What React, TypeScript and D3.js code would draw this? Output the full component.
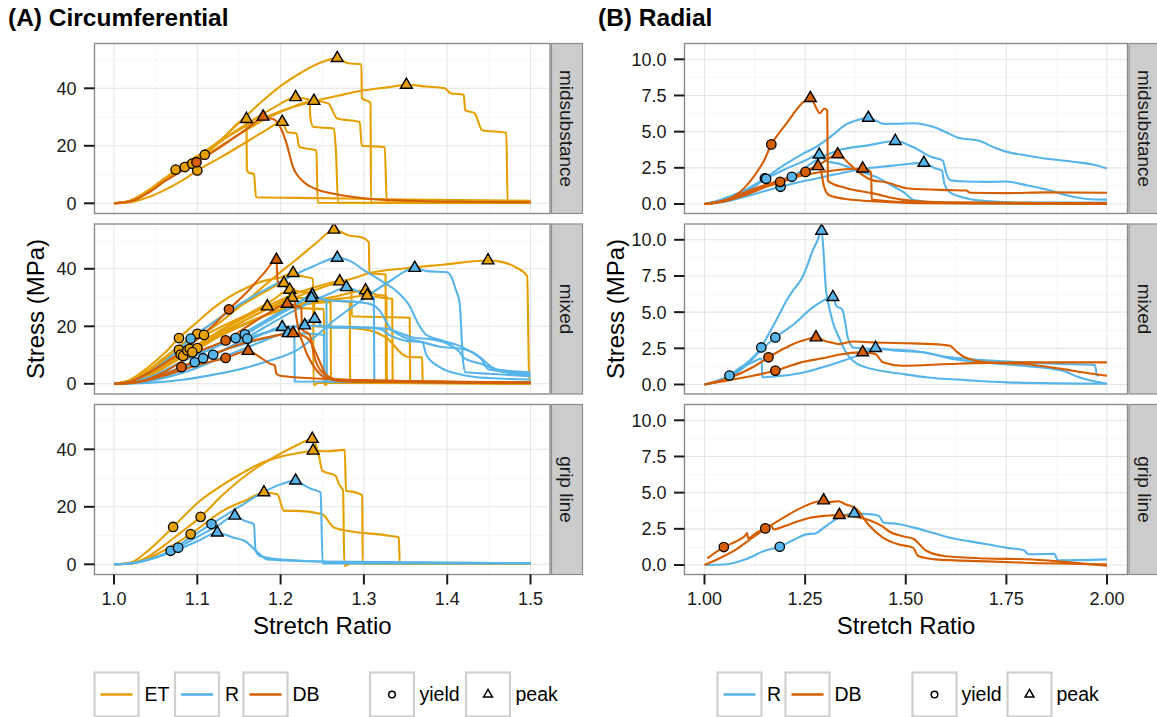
import React from 'react';
import * as d3 from 'd3';

type G = 'ET' | 'R' | 'DB';
type P = [number, number];
type Curve = { g: G; pts: P[] };
type Mk = [number, number, G];

// ---------- tick labels / categories ----------
const facetLabels = ['midsubstance', 'mixed', 'grip line'];
const xTicksA = [1.0, 1.1, 1.2, 1.3, 1.4, 1.5];
const xTickLabelsA = ['1.0', '1.1', '1.2', '1.3', '1.4', '1.5'];
const yTicksA = [0, 20, 40];
const yTickLabelsA = ['0', '20', '40'];
const xTicksB = [1.0, 1.25, 1.5, 1.75, 2.0];
const xTickLabelsB = ['1.00', '1.25', '1.50', '1.75', '2.00'];
const yTicksB = [0, 2.5, 5, 7.5, 10];
const yTickLabelsB = ['0.0', '2.5', '5.0', '7.5', '10.0'];
const legendGroupsA: G[] = ['ET', 'R', 'DB'];
const legendGroupsB: G[] = ['R', 'DB'];

// ---------- (A) Circumferential : midsubstance ----------
const aMidCurves: Curve[] = [
  { g: 'ET', pts: [[1, 0], [1.02, 0.8], [1.04, 3.5], [1.06, 7.5], [1.08, 11.8], [1.109, 16.9], [1.13, 22.5], [1.159, 30.5], [1.18, 36], [1.201, 41], [1.225, 45.5], [1.246, 48.7], [1.268, 50.5], [1.28, 48.8], [1.297, 48.3], [1.2975, 36.5], [1.308, 35], [1.3085, 0.2], [1.5, 0.2]] },
  { g: 'ET', pts: [[1, 0], [1.02, 0.9], [1.04, 4], [1.06, 8.3], [1.074, 11.7], [1.1, 16.5], [1.13, 22], [1.16, 27], [1.2, 32], [1.24, 35.5], [1.27, 37.5], [1.3, 39.3], [1.33, 40.4], [1.351, 41.2], [1.375, 40.6], [1.397, 40], [1.404, 38.3], [1.42, 37.7], [1.4215, 32.4], [1.433, 31.3], [1.442, 25.4], [1.471, 24.5], [1.4725, 0.6], [1.5, 0.5]] },
  { g: 'ET', pts: [[1, 0], [1.02, 1], [1.04, 4.3], [1.06, 8.5], [1.085, 12.6], [1.11, 17.5], [1.14, 24], [1.17, 29.5], [1.195, 33.8], [1.218, 36.9], [1.235, 35.9], [1.2355, 30.3], [1.239, 26.6], [1.264, 26], [1.2665, 17.8], [1.269, 0.3], [1.5, 0.2]] },
  { g: 'ET', pts: [[1, 0], [1.02, 0.8], [1.04, 3.8], [1.06, 8], [1.094, 13.8], [1.12, 18.5], [1.15, 24], [1.18, 29], [1.21, 33], [1.24, 35.6], [1.257, 34.8], [1.268, 29.5], [1.295, 28.3], [1.2975, 20], [1.325, 19.6], [1.3275, 0.3], [1.5, 0.2]] },
  { g: 'ET', pts: [[1, 0], [1.02, 1], [1.04, 4.2], [1.06, 8.2], [1.08, 12], [1.1, 16], [1.13, 22.5], [1.159, 29.3], [1.1595, 11.5], [1.162, 10.6], [1.168, 10.2], [1.1705, 2.1], [1.25, 1.8], [1.35, 1.3], [1.5, 0.9]] },
  { g: 'ET', pts: [[1, 0], [1.02, 0.4], [1.04, 2], [1.06, 4.5], [1.08, 7.6], [1.1, 11.4], [1.13, 16.3], [1.16, 21.5], [1.18, 25], [1.202, 28.3], [1.208, 24.8], [1.219, 24.3], [1.2225, 19.6], [1.243, 18.4], [1.2445, 0.2], [1.5, 0.1]] },
  { g: 'DB', pts: [[1, 0], [1.02, 0.7], [1.04, 3.5], [1.06, 7.5], [1.08, 11], [1.099, 14.3], [1.13, 20], [1.16, 26], [1.179, 29.6], [1.19, 29.4], [1.197, 27.8], [1.206, 21.9], [1.215, 12.6], [1.228, 7.3], [1.242, 5], [1.264, 3.3], [1.308, 1.5], [1.353, 0.9], [1.5, 0.35]] },
];
const aMidYield: Mk[] = [[1.074, 11.7, 'ET'], [1.085, 12.6, 'ET'], [1.094, 13.8, 'ET'], [1.1, 11.4, 'ET'], [1.109, 16.9, 'ET'], [1.099, 14.3, 'DB']];
const aMidPeak: Mk[] = [[1.268, 50.5, 'ET'], [1.351, 41.2, 'ET'], [1.218, 36.9, 'ET'], [1.24, 35.6, 'ET'], [1.159, 29.3, 'ET'], [1.202, 28.3, 'ET'], [1.179, 30.1, 'DB']];

// ---------- (A) Circumferential : mixed ----------
const aMixCurves: Curve[] = [
  { g: 'ET', pts: [[1, 0], [1.02, 1], [1.04, 4], [1.06, 8], [1.08, 12.2], [1.108, 17.6], [1.13, 22], [1.16, 29], [1.19, 36.5], [1.22, 43.5], [1.245, 49.5], [1.264, 53.6], [1.282, 51.6], [1.297, 51], [1.306, 49.3], [1.3065, 38.5], [1.326, 38], [1.3265, 0.4], [1.5, 0.3]] },
  { g: 'ET', pts: [[1, 0], [1.02, 0.5], [1.04, 2.5], [1.06, 5.5], [1.08, 9], [1.1, 12.4], [1.13, 17.5], [1.16, 22.5], [1.2, 28], [1.25, 33.5], [1.291, 37.1], [1.308, 38.6], [1.35, 40.2], [1.397, 41.5], [1.449, 42.9], [1.465, 42.4], [1.482, 40.6], [1.496, 37.5], [1.4985, 1.5], [1.5, 1.2]] },
  { g: 'ET', pts: [[1, 0], [1.02, 1.5], [1.04, 5.5], [1.06, 10.5], [1.078, 15.9], [1.1, 21.5], [1.12, 26.5], [1.14, 30.5], [1.16, 33.5], [1.18, 35.8], [1.2, 37], [1.215, 38.5], [1.225, 37.5], [1.239, 36.5], [1.2395, -0.5], [1.245, 0.3], [1.5, 0.2]] },
  { g: 'ET', pts: [[1, 0], [1.02, 1], [1.04, 4.5], [1.06, 9], [1.08, 13.5], [1.1, 17.4], [1.13, 23.5], [1.16, 28.5], [1.18, 31.8], [1.204, 35], [1.21, 33.5], [1.2105, 26.5], [1.252, 26], [1.2525, -0.5], [1.258, 0.3], [1.5, 0.2]] },
  { g: 'ET', pts: [[1, 0], [1.02, 1], [1.04, 4], [1.06, 7.5], [1.08, 10.2], [1.1, 13.5], [1.13, 19], [1.16, 24], [1.19, 29], [1.211, 32.7], [1.225, 32], [1.24, 31.5], [1.2405, 20], [1.28, 19.5], [1.308, 18.5], [1.326, 16.2], [1.353, 9.3], [1.37, 9.2], [1.3705, 0.3], [1.5, 0.2]] },
  { g: 'ET', pts: [[1, 0], [1.02, 0.9], [1.04, 3.5], [1.06, 7], [1.083, 9.7], [1.11, 14.5], [1.14, 19.5], [1.17, 24], [1.19, 27], [1.214, 29.9], [1.23, 29.8], [1.26, 29], [1.283, 28.5], [1.2835, 0.5], [1.5, 0.3]] },
  { g: 'ET', pts: [[1, 0], [1.02, 1.2], [1.04, 4.5], [1.06, 8.5], [1.078, 11.8], [1.1, 15.5], [1.13, 20], [1.16, 24], [1.184, 26.9], [1.2, 26.8], [1.22, 27.5], [1.24, 28], [1.26, 28.5], [1.2605, 0.5], [1.5, 0.3]] },
  { g: 'ET', pts: [[1, 0], [1.02, 0.9], [1.04, 3.8], [1.06, 7.5], [1.088, 11.6], [1.12, 17], [1.15, 22], [1.18, 26.5], [1.21, 30.5], [1.24, 33.5], [1.271, 35.6], [1.279, 34.5], [1.285, 33], [1.2855, 23.5], [1.355, 23], [1.3555, 0.3], [1.5, 0.2]] },
  { g: 'ET', pts: [[1, 0], [1.02, 0.7], [1.04, 3], [1.06, 6.5], [1.091, 12.2], [1.12, 16], [1.15, 20], [1.18, 23.8], [1.21, 26.8], [1.24, 28.8], [1.27, 30.6], [1.302, 32.5], [1.315, 31], [1.327, 30.5], [1.3275, 0.3], [1.5, 0.2]] },
  { g: 'ET', pts: [[1, 0], [1.02, 0.6], [1.04, 2.8], [1.06, 6], [1.094, 11], [1.13, 17], [1.16, 21], [1.19, 24.5], [1.22, 27], [1.25, 28.8], [1.28, 29.9], [1.304, 30.7], [1.32, 30], [1.334, 29.5], [1.3345, 0.3], [1.5, 0.2]] },
  { g: 'R', pts: [[1, 0], [1.02, 0.8], [1.04, 3.5], [1.06, 7.5], [1.08, 12.5], [1.092, 15.7], [1.12, 21.5], [1.15, 27.5], [1.18, 32.5], [1.21, 37], [1.24, 41], [1.268, 43.8], [1.285, 42.5], [1.3, 39.5], [1.32, 36], [1.34, 32], [1.355, 27], [1.365, 21], [1.375, 17], [1.395, 15], [1.42, 12.5], [1.44, 9], [1.455, 5.5], [1.47, 4], [1.5, 3]] },
  { g: 'R', pts: [[1, 0], [1.04, 0.3], [1.08, 1.3], [1.12, 3.2], [1.15, 5], [1.175, 7], [1.2, 9.3], [1.219, 11.6], [1.24, 16], [1.264, 22], [1.285, 26.5], [1.308, 31.3], [1.33, 35.5], [1.361, 40.3], [1.375, 39.2], [1.4, 38.8], [1.406, 36.5], [1.41, 33], [1.415, 28], [1.419, 8], [1.422, 4], [1.45, 3.5], [1.5, 2.6]] },
  { g: 'R', pts: [[1, 0], [1.02, 0.4], [1.04, 1.6], [1.06, 3.5], [1.08, 5.8], [1.1, 8.2], [1.119, 10.1], [1.15, 14.5], [1.18, 19.5], [1.21, 24.5], [1.24, 29], [1.26, 31.5], [1.279, 33.6], [1.29, 32.5], [1.3, 31], [1.312, 30], [1.3125, 0.8], [1.5, 0.5]] },
  { g: 'R', pts: [[1, 0], [1.02, 0.5], [1.04, 2], [1.06, 4.5], [1.08, 7.5], [1.1, 10], [1.12, 12.5], [1.146, 15.9], [1.17, 20], [1.2, 25], [1.22, 28], [1.238, 31], [1.245, 30], [1.255, 29], [1.2555, 0.8], [1.5, 0.4]] },
  { g: 'R', pts: [[1, 0], [1.02, 0.5], [1.04, 2], [1.06, 4.5], [1.08, 7.5], [1.1, 10.5], [1.13, 14.5], [1.157, 17.2], [1.18, 21], [1.21, 26], [1.237, 29.9], [1.26, 29], [1.29, 28.5], [1.31, 27.5], [1.32, 25], [1.33, 20], [1.35, 16], [1.37, 14.5], [1.39, 13], [1.42, 12], [1.44, 9], [1.45, 5], [1.5, 3.5]] },
  { g: 'R', pts: [[1, 0], [1.02, 0.4], [1.04, 1.5], [1.06, 3.3], [1.08, 5.5], [1.097, 7.5], [1.13, 11.5], [1.16, 15], [1.18, 17.5], [1.202, 19.7], [1.21, 19], [1.2165, 18], [1.217, 0.8], [1.5, 0.5]] },
  { g: 'R', pts: [[1, 0], [1.02, 0.3], [1.04, 1.4], [1.06, 3.2], [1.08, 5.5], [1.107, 8.9], [1.14, 12.5], [1.17, 15], [1.19, 16.5], [1.209, 17.6], [1.23, 17.5], [1.252, 17], [1.2525, 0.8], [1.5, 0.3]] },
  { g: 'R', pts: [[1, 0], [1.03, 0.5], [1.06, 2.5], [1.09, 6], [1.12, 10], [1.14, 13], [1.16, 15.7], [1.19, 18.5], [1.21, 19.8], [1.229, 20.3], [1.25, 20], [1.28, 19.8], [1.31, 19.5], [1.33, 19], [1.345, 17.5], [1.36, 16], [1.38, 15.5], [1.4, 14], [1.415, 11], [1.42, 9], [1.44, 7], [1.46, 5], [1.5, 4]] },
  { g: 'R', pts: [[1, 0], [1.03, 0.4], [1.06, 2], [1.09, 4.5], [1.12, 8], [1.15, 11.5], [1.18, 15], [1.21, 18.5], [1.241, 22.6], [1.25, 20], [1.26, 19.5], [1.3, 19.5], [1.32, 19], [1.33, 17], [1.35, 15], [1.37, 14.5], [1.375, 10], [1.39, 6], [1.42, 3], [1.45, 2], [1.5, 1.5]] },
  { g: 'DB', pts: [[1, 0], [1.02, 0.8], [1.04, 3.5], [1.06, 7], [1.08, 11], [1.1, 15.5], [1.12, 20.5], [1.138, 25.9], [1.16, 32], [1.18, 38.5], [1.195, 43.1], [1.1965, 35.5], [1.205, 34], [1.216, 33], [1.218, 25], [1.228, 13], [1.24, 6], [1.255, 2], [1.28, 0.8], [1.5, 0.2]] },
  { g: 'DB', pts: [[1, 0], [1.02, 0.3], [1.04, 1.5], [1.06, 4], [1.08, 7.5], [1.1, 11], [1.134, 15.1], [1.16, 20], [1.185, 24.5], [1.208, 27.8], [1.22, 27], [1.225, 26.5], [1.2255, 19], [1.235, 17], [1.24, 10], [1.25, 4], [1.27, 1.5], [1.5, 0.4]] },
  { g: 'DB', pts: [[1, 0], [1.02, 0.3], [1.04, 1.3], [1.06, 3.2], [1.081, 5.8], [1.1, 8.2], [1.13, 11.5], [1.16, 14.5], [1.19, 16.5], [1.215, 17.6], [1.225, 17], [1.235, 15], [1.245, 9], [1.255, 3], [1.27, 1], [1.5, 0.3]] },
  { g: 'DB', pts: [[1, 0], [1.02, 0.3], [1.04, 1.2], [1.06, 2.8], [1.08, 4.5], [1.1, 6.5], [1.134, 9], [1.161, 11.4], [1.175, 9.3], [1.188, 6.9], [1.193, 6.4], [1.195, 3.5], [1.201, 2.7], [1.3, 1.2], [1.5, 0.5]] },
];
const aMixYield: Mk[] = [
  [1.078, 15.9, 'ET'], [1.078, 11.8, 'ET'], [1.08, 10.2, 'ET'], [1.083, 9.7, 'ET'], [1.088, 11.6, 'ET'], [1.091, 12.2, 'ET'], [1.1, 17.4, 'ET'], [1.108, 17.0, 'ET'], [1.1, 12.4, 'ET'], [1.094, 11.0, 'ET'],
  [1.092, 15.7, 'R'], [1.097, 7.5, 'R'], [1.107, 8.9, 'R'], [1.119, 10.1, 'R'], [1.146, 15.9, 'R'], [1.157, 17.2, 'R'], [1.16, 15.7, 'R'],
  [1.081, 5.8, 'DB'], [1.138, 25.9, 'DB'], [1.134, 15.1, 'DB'], [1.134, 9.0, 'DB'],
];
const aMixPeak: Mk[] = [
  [1.264, 53.6, 'ET'], [1.449, 42.9, 'ET'], [1.215, 38.5, 'ET'], [1.204, 35.0, 'ET'], [1.211, 32.7, 'ET'], [1.214, 29.9, 'ET'], [1.184, 26.9, 'ET'], [1.271, 35.6, 'ET'], [1.302, 32.5, 'ET'], [1.304, 30.7, 'ET'],
  [1.268, 43.8, 'R'], [1.361, 40.3, 'R'], [1.279, 33.6, 'R'], [1.238, 31.0, 'R'], [1.237, 29.9, 'R'], [1.202, 19.7, 'R'], [1.209, 17.6, 'R'], [1.229, 20.3, 'R'], [1.241, 22.6, 'R'],
  [1.195, 43.1, 'DB'], [1.208, 27.8, 'DB'], [1.215, 17.6, 'DB'], [1.161, 11.4, 'DB'],
];

// ---------- (A) Circumferential : grip line ----------
const aGripCurves: Curve[] = [
  { g: 'ET', pts: [[1, 0], [1.02, 0.6], [1.04, 4.5], [1.071, 13], [1.103, 22], [1.13, 27.5], [1.152, 31.4], [1.175, 35], [1.201, 37.5], [1.22, 38.6], [1.239, 39.5], [1.255, 39.3], [1.277, 39.8], [1.2785, 25.6], [1.29, 25], [1.298, 24], [1.2985, 0.2], [1.5, 0.2]] },
  { g: 'ET', pts: [[1, 0], [1.02, 0.3], [1.04, 2.5], [1.06, 6.5], [1.08, 11], [1.104, 16.5], [1.13, 24], [1.152, 29.5], [1.175, 34.3], [1.2, 38.5], [1.22, 41.5], [1.238, 43.6], [1.246, 37.8], [1.25, 32.6], [1.266, 30.8], [1.27, 27.9], [1.275, 25.6], [1.2765, -0.5], [1.285, 0.3], [1.5, 0.2]] },
  { g: 'ET', pts: [[1, 0], [1.02, 0.3], [1.04, 2], [1.06, 4.8], [1.092, 10.5], [1.13, 18.5], [1.16, 22.5], [1.18, 25], [1.196, 24.4], [1.204, 18.6], [1.219, 18.6], [1.25, 17.4], [1.264, 12.8], [1.282, 11.6], [1.331, 9.9], [1.342, 9.3], [1.343, 0.2], [1.5, 0.2]] },
  { g: 'R', pts: [[1, 0], [1.02, 0.3], [1.04, 1.5], [1.068, 4.7], [1.09, 9], [1.117, 14], [1.152, 20.3], [1.175, 24.4], [1.2, 27.8], [1.218, 29.1], [1.225, 28], [1.237, 26.2], [1.248, 25], [1.2505, 0.3], [1.5, 0.3]] },
  { g: 'R', pts: [[1, 0], [1.02, 0.3], [1.04, 1.5], [1.06, 3.5], [1.077, 5.8], [1.1, 9.5], [1.125, 13.5], [1.145, 16.9], [1.157, 15.1], [1.168, 14], [1.17, 4.7], [1.175, 2.9], [1.184, 2.3], [1.22, 1.3], [1.3, 0.6], [1.5, 0.4]] },
  { g: 'R', pts: [[1, 0], [1.02, 0.3], [1.04, 1.5], [1.06, 3.2], [1.08, 5.5], [1.1, 8], [1.124, 11], [1.143, 9.3], [1.157, 8.1], [1.175, 3.5], [1.184, 1.7], [1.25, 1], [1.5, 0.4]] },
];
const aGripYield: Mk[] = [[1.071, 13.0, 'ET'], [1.104, 16.5, 'ET'], [1.092, 10.5, 'ET'], [1.117, 14.0, 'R'], [1.068, 4.7, 'R'], [1.077, 5.8, 'R']];
const aGripPeak: Mk[] = [[1.238, 43.6, 'ET'], [1.239, 39.5, 'ET'], [1.18, 25.0, 'ET'], [1.218, 29.1, 'R'], [1.145, 16.9, 'R'], [1.124, 11.0, 'R']];

// ---------- (B) Radial : midsubstance ----------
const bMidCurves: Curve[] = [
  { g: 'R', pts: [[1, 0], [1.03, 0.2], [1.06, 0.5], [1.1, 0.95], [1.15, 1.78], [1.203, 2.79], [1.24, 3.4], [1.277, 3.94], [1.32, 4.8], [1.351, 5.49], [1.38, 5.8], [1.407, 5.95], [1.425, 5.77], [1.444, 5.54], [1.48, 5.55], [1.518, 5.58], [1.545, 5.5], [1.573, 5.29], [1.61, 4.83], [1.628, 4.6], [1.684, 4.35], [1.72, 3.9], [1.749, 3.62], [1.8, 3.35], [1.841, 3.16], [1.934, 2.86], [1.97, 2.7], [2.0, 2.45]] },
  { g: 'R', pts: [[1, 0], [1.04, 0.2], [1.08, 0.5], [1.12, 0.9], [1.16, 1.3], [1.217, 1.88], [1.277, 3.02], [1.333, 3.71], [1.407, 4.05], [1.474, 4.35], [1.518, 3.94], [1.564, 3.25], [1.592, 3.0], [1.601, 2.1], [1.61, 1.65], [1.65, 1.55], [1.702, 1.53], [1.749, 1.55], [1.8, 1.3], [1.85, 1.0], [1.9, 0.6], [1.95, 0.35], [2.0, 0.3]] },
  { g: 'R', pts: [[1, 0], [1.05, 0.15], [1.1, 0.5], [1.15, 0.9], [1.189, 1.19], [1.25, 1.6], [1.3, 1.9], [1.35, 2.2], [1.4, 2.45], [1.45, 2.6], [1.5, 2.75], [1.545, 2.84], [1.57, 2.5], [1.59, 2.3], [1.596, 1.4], [1.61, 0.8], [1.65, 0.4], [1.7, 0.2], [1.8, 0.1], [2.0, 0.1]] },
  { g: 'R', pts: [[1, 0], [1.05, 0.2], [1.1, 0.8], [1.153, 1.74], [1.2, 2.4], [1.25, 3.0], [1.285, 3.41], [1.3, 3.0], [1.333, 2.79], [1.379, 2.33], [1.425, 1.88], [1.471, 1.19], [1.499, 0.73], [1.52, 0.27], [1.6, 0.05], [2.0, 0.0]] },
  { g: 'DB', pts: [[1, 0], [1.03, 0.1], [1.055, 0.3], [1.08, 0.65], [1.102, 1.2], [1.125, 2.0], [1.148, 3.0], [1.166, 4.12], [1.185, 4.9], [1.203, 5.54], [1.22, 6.2], [1.24, 6.9], [1.263, 7.32], [1.277, 6.68], [1.286, 6.27], [1.298, 6.6], [1.305, 6.45], [1.3065, 1.6], [1.351, 1.1], [1.416, 0.75], [1.49, 0.3], [1.6, 0.1], [2.0, 0.05]] },
  { g: 'DB', pts: [[1, 0], [1.05, 0.2], [1.1, 0.7], [1.15, 1.3], [1.2, 1.75], [1.251, 2.22], [1.29, 2.8], [1.331, 3.43], [1.359, 2.79], [1.388, 2.1], [1.416, 1.65], [1.45, 1.5], [1.508, 1.07], [1.61, 0.96], [1.65, 0.93], [1.66, 0.78], [1.75, 0.75], [1.85, 0.8], [2.0, 0.78]] },
  { g: 'DB', pts: [[1, 0], [1.05, 0.25], [1.1, 0.8], [1.15, 1.3], [1.188, 1.53], [1.22, 1.9], [1.25, 2.25], [1.282, 2.61], [1.29, 2.2], [1.297, 1.2], [1.31, 0.6], [1.35, 0.35], [1.45, 0.15], [1.55, 0.05], [2.0, 0.0]] },
  { g: 'DB', pts: [[1, 0], [1.05, 0.2], [1.1, 0.6], [1.15, 1.15], [1.19, 1.5], [1.24, 1.95], [1.3, 2.25], [1.35, 2.4], [1.393, 2.45], [1.41, 2.3], [1.414, 2.1], [1.4155, 0.3], [1.5, 0.12], [2.0, 0.05]] },
];
const bMidYield: Mk[] = [[1.15, 1.78, 'R'], [1.153, 1.74, 'R'], [1.189, 1.19, 'R'], [1.217, 1.88, 'R'], [1.166, 4.12, 'DB'], [1.188, 1.53, 'DB'], [1.251, 2.22, 'DB']];
const bMidPeak: Mk[] = [[1.407, 5.95, 'R'], [1.474, 4.35, 'R'], [1.545, 2.84, 'R'], [1.285, 3.41, 'R'], [1.263, 7.32, 'DB'], [1.331, 3.43, 'DB'], [1.282, 2.61, 'DB'], [1.393, 2.45, 'DB']];

// ---------- (B) Radial : mixed ----------
const bMixCurves: Curve[] = [
  { g: 'R', pts: [[1, 0], [1.03, 0.25], [1.062, 0.62], [1.08, 1.0], [1.102, 1.42], [1.125, 2.0], [1.141, 2.56], [1.148, 2.91], [1.166, 3.82], [1.185, 4.8], [1.203, 5.77], [1.22, 6.5], [1.24, 7.25], [1.255, 8.2], [1.268, 9.2], [1.28, 9.9], [1.291, 10.62], [1.297, 8.6], [1.301, 6.8], [1.31, 5.3], [1.32, 4.2], [1.335, 3.2], [1.35, 2.3], [1.37, 1.6], [1.4, 1.2], [1.45, 0.9], [1.5, 0.7], [1.55, 0.5], [1.65, 0.3], [1.75, 0.15], [2.0, 0.05]] },
  { g: 'R', pts: [[1, 0], [1.04, 0.25], [1.08, 0.8], [1.11, 1.5], [1.141, 2.4], [1.176, 3.25], [1.222, 4.16], [1.268, 5.31], [1.295, 5.8], [1.319, 6.04], [1.328, 5.42], [1.342, 5.19], [1.349, 4.39], [1.356, 3.25], [1.37, 2.56], [1.425, 2.45], [1.518, 2.33], [1.61, 1.88], [1.656, 1.76], [1.795, 1.53], [1.887, 1.42], [1.97, 1.35], [1.975, 0.65], [1.98, 0.6]] },
  { g: 'R', pts: [[1, 0], [1.03, 0.2], [1.062, 0.62], [1.09, 1.1], [1.12, 1.55], [1.142, 1.8], [1.1435, 0.5], [1.176, 0.55], [1.24, 0.8], [1.3, 1.25], [1.35, 1.7], [1.39, 2.1], [1.425, 2.52], [1.45, 2.45], [1.47, 2.35], [1.5, 2.3], [1.55, 2.2], [1.61, 1.8], [1.7, 1.5], [1.79, 1.3], [1.89, 0.95], [1.93, 0.5], [2.0, 0.05]] },
  { g: 'DB', pts: [[1, 0], [1.055, 0.39], [1.12, 1.19], [1.159, 1.88], [1.203, 2.56], [1.24, 3.0], [1.277, 3.25], [1.3, 3.0], [1.314, 2.91], [1.333, 2.79], [1.37, 2.97], [1.425, 2.9], [1.517, 2.84], [1.59, 2.75], [1.61, 2.68], [1.624, 2.33], [1.647, 1.88], [1.702, 1.53], [1.795, 1.42], [1.887, 1.08], [1.95, 0.8], [2.0, 0.6]] },
  { g: 'DB', pts: [[1, 0], [1.055, 0.27], [1.12, 0.6], [1.176, 0.96], [1.24, 1.53], [1.3, 1.85], [1.333, 2.06], [1.393, 2.22], [1.425, 2.1], [1.437, 1.7], [1.443, 1.53], [1.49, 1.3], [1.61, 1.42], [1.795, 1.53], [2.0, 1.53]] },
];
const bMixYield: Mk[] = [[1.062, 0.62, 'R'], [1.141, 2.56, 'R'], [1.176, 3.25, 'R'], [1.159, 1.88, 'DB'], [1.176, 0.96, 'DB']];
const bMixPeak: Mk[] = [[1.291, 10.62, 'R'], [1.319, 6.04, 'R'], [1.425, 2.52, 'R'], [1.277, 3.25, 'DB'], [1.393, 2.22, 'DB']];

// ---------- (B) Radial : grip line ----------
const bGripCurves: Curve[] = [
  { g: 'R', pts: [[1, 0], [1.055, 0.05], [1.102, 0.39], [1.148, 0.97], [1.187, 1.26], [1.222, 1.75], [1.25, 2.1], [1.277, 2.2], [1.296, 2.57], [1.333, 3.26], [1.372, 3.56], [1.416, 3.5], [1.434, 3.38], [1.444, 2.94], [1.481, 2.83], [1.518, 2.6], [1.564, 2.25], [1.61, 1.88], [1.656, 1.65], [1.702, 1.43], [1.749, 1.2], [1.795, 1.01], [1.804, 0.74], [1.869, 0.78], [1.878, 0.32], [2.0, 0.39]] },
  { g: 'DB', pts: [[1.007, 0.46], [1.048, 1.24], [1.08, 1.65], [1.1, 2.0], [1.106, 2.2], [1.108, 1.85], [1.13, 2.25], [1.151, 2.53], [1.18, 3.0], [1.21, 3.5], [1.24, 3.95], [1.27, 4.3], [1.296, 4.46], [1.31, 4.35], [1.333, 4.41], [1.35, 4.2], [1.379, 3.84], [1.407, 2.8], [1.444, 1.88], [1.481, 1.43], [1.518, 1.2], [1.531, 0.62], [1.573, 0.39], [1.7, 0.25], [1.795, 0.16], [2.0, 0.05]] },
  { g: 'DB', pts: [[1, 0], [1.04, 0.5], [1.08, 1.1], [1.12, 1.9], [1.151, 2.5], [1.165, 2.75], [1.172, 2.45], [1.2, 2.7], [1.23, 3.0], [1.26, 3.25], [1.3, 3.4], [1.335, 3.45], [1.36, 3.4], [1.38, 3.3], [1.41, 3.1], [1.44, 2.7], [1.46, 2.3], [1.49, 2.0], [1.52, 1.8], [1.535, 1.4], [1.55, 1.0], [1.6, 0.6], [1.7, 0.45], [1.8, 0.4], [1.9, 0.2], [2.0, -0.05]] },
];
const bGripYield: Mk[] = [[1.187, 1.26, 'R'], [1.048, 1.24, 'DB'], [1.151, 2.53, 'DB']];
const bGripPeak: Mk[] = [[1.372, 3.56, 'R'], [1.296, 4.46, 'DB'], [1.335, 3.45, 'DB']];

// ---------- styling ----------
const COL: Record<G, string> = { ET: '#E69F00', R: '#56B4E9', DB: '#D55E00' };
const FONT = "'Liberation Sans', Arial, Helvetica, sans-serif";
const panelTops = [43.5, 224, 404.5];
const PANEL_H = 170;

interface FacetProps {
  id: string;
  top: number;
  left: number;
  right: number;
  xs: d3.ScaleLinear<number, number>;
  yZero: number;
  yTop: number;
  yRef: number;
  xTicks: number[];
  xMinor: number[];
  yTicks: number[];
  yTickLabels: string[];
  yMinor: number[];
  curves: Curve[];
  yields: Mk[];
  peaks: Mk[];
  label: string;
}

function Facet(p: FacetProps) {
  const ys = d3.scaleLinear().domain([0, p.yRef]).range([p.top + p.yZero, p.top + p.yTop]);
  const line = d3.line<P>().x((d) => p.xs(d[0])).y((d) => ys(d[1])).curve(d3.curveMonotoneX);
  const tri = d3.symbol().type(d3.symbolTriangle).size(60)();
  const bottom = p.top + PANEL_H;
  const stripX = p.right + 1.5;
  return (
    <g>
      <defs>
        <clipPath id={p.id}>
          <rect x={p.left} y={p.top} width={p.right - p.left} height={PANEL_H} />
        </clipPath>
      </defs>
      <rect x={p.left} y={p.top} width={p.right - p.left} height={PANEL_H} fill="#fff" />
      {p.xMinor.map((v, i) => (
        <line key={'xm' + i} x1={p.xs(v)} x2={p.xs(v)} y1={p.top} y2={bottom} stroke="#f3f3f3" strokeWidth={0.7} />
      ))}
      {p.yMinor.map((v, i) => (
        <line key={'ym' + i} x1={p.left} x2={p.right} y1={ys(v)} y2={ys(v)} stroke="#f3f3f3" strokeWidth={0.7} />
      ))}
      {p.xTicks.map((v, i) => (
        <line key={'xg' + i} x1={p.xs(v)} x2={p.xs(v)} y1={p.top} y2={bottom} stroke="#e5e5e5" strokeWidth={1.1} />
      ))}
      {p.yTicks.map((v, i) => (
        <line key={'yg' + i} x1={p.left} x2={p.right} y1={ys(v)} y2={ys(v)} stroke="#e5e5e5" strokeWidth={1.1} />
      ))}
      <g clipPath={`url(#${p.id})`}>
        {p.curves.map((c, i) => (
          <path key={'c' + i} d={line(c.pts) || ''} fill="none" stroke={COL[c.g]} strokeWidth={2.1} strokeLinejoin="round" />
        ))}
        {p.yields.map((m, i) => (
          <circle key={'y' + i} cx={p.xs(m[0])} cy={ys(m[1])} r={4.7} fill={COL[m[2]]} stroke="#000" strokeWidth={1.3} />
        ))}
        {p.peaks.map((m, i) => (
          <path key={'p' + i} d={tri || ''} transform={`translate(${p.xs(m[0])},${ys(m[1])})`} fill={COL[m[2]]} stroke="#000" strokeWidth={1.4} strokeLinejoin="miter" />
        ))}
      </g>
      <rect x={p.left} y={p.top} width={p.right - p.left} height={PANEL_H} fill="none" stroke="#8c8c8c" strokeWidth={1.4} />
      {p.yTicks.map((v, i) => (
        <g key={'yt' + i}>
          <line x1={p.left - 10.5} x2={p.left} y1={ys(v)} y2={ys(v)} stroke="#1a1a1a" strokeWidth={2} />
          <text x={p.left - 18} y={ys(v)} dy="0.36em" textAnchor="end" fontFamily={FONT} fontSize={18} fill="#1a1a1a">
            {p.yTickLabels[i]}
          </text>
        </g>
      ))}
      <rect x={stripX} y={p.top} width={31} height={PANEL_H} fill="#cccccc" stroke="#8c8c8c" strokeWidth={1.2} />
      <text
        transform={`translate(${stripX + 15.5},${p.top + PANEL_H / 2}) rotate(90)`}
        textAnchor="middle"
        dy="0.35em"
        fontFamily={FONT}
        fontSize={19}
        fill="#1a1a1a"
      >
        {p.label}
      </text>
    </g>
  );
}

function Side(props: {
  idp: string;
  left: number;
  right: number;
  xs: d3.ScaleLinear<number, number>;
  xTicks: number[];
  xTickLabels: string[];
  xMinor: number[];
  yTicks: number[];
  yTickLabels: string[];
  yMinor: number[];
  yZero: number;
  yTop: number;
  yRef: number;
  data: [Curve[], Mk[], Mk[]][];
  title: string;
  titleX: number;
  yTitleX: number;
}) {
  const bottom = panelTops[2] + PANEL_H;
  const cx = (props.left + props.right) / 2;
  return (
    <g>
      <text x={props.titleX} y={26} fontFamily={FONT} fontWeight="bold" fontSize={24.5} fill="#000">
        {props.title}
      </text>
      {panelTops.map((t, i) => (
        <Facet
          key={i}
          id={props.idp + i}
          top={t}
          left={props.left}
          right={props.right}
          xs={props.xs}
          yZero={props.yZero}
          yTop={props.yTop}
          yRef={props.yRef}
          xTicks={props.xTicks}
          xMinor={props.xMinor}
          yTicks={props.yTicks}
          yTickLabels={props.yTickLabels}
          yMinor={props.yMinor}
          curves={props.data[i][0]}
          yields={props.data[i][1]}
          peaks={props.data[i][2]}
          label={facetLabels[i]}
        />
      ))}
      {props.xTicks.map((v, i) => (
        <g key={'xt' + i}>
          <line x1={props.xs(v)} x2={props.xs(v)} y1={bottom} y2={bottom + 10} stroke="#1a1a1a" strokeWidth={2} />
          <text x={props.xs(v)} y={605} textAnchor="middle" fontFamily={FONT} fontSize={18} fill="#1a1a1a">
            {props.xTickLabels[i]}
          </text>
        </g>
      ))}
      <text x={cx} y={634} textAnchor="middle" fontFamily={FONT} fontSize={24} fill="#000">
        Stretch Ratio
      </text>
      <text
        transform={`translate(${props.yTitleX},${(panelTops[0] + bottom) / 2}) rotate(-90)`}
        textAnchor="middle"
        fontFamily={FONT}
        fontSize={24}
        fill="#000"
      >
        Stress (MPa)
      </text>
    </g>
  );
}

function LegendKey({ x, kind, g }: { x: number; kind: 'line' | 'yield' | 'peak'; g?: G }) {
  const y = 672.5;
  const s = 44;
  const tri = d3.symbol().type(d3.symbolTriangle).size(34)();
  return (
    <g>
      <rect x={x} y={y} width={s} height={s} fill="#fff" stroke="#cfcfcf" strokeWidth={2.2} />
      {kind === 'line' && g && (
        <line x1={x + 6} x2={x + s - 6} y1={y + s / 2} y2={y + s / 2} stroke={COL[g]} strokeWidth={2.6} />
      )}
      {kind === 'yield' && <circle cx={x + s / 2} cy={y + s / 2} r={3.3} fill="none" stroke="#000" strokeWidth={1.5} />}
      {kind === 'peak' && (
        <path d={tri || ''} transform={`translate(${x + s / 2},${y + s / 2})`} fill="none" stroke="#000" strokeWidth={1.5} />
      )}
    </g>
  );
}

function LegendText({ x, t }: { x: number; t: string }) {
  return (
    <text x={x} y={701} fontFamily={FONT} fontSize={19.5} fill="#000">
      {t}
    </text>
  );
}

export default function App() {
  const xsA = d3.scaleLinear().domain([1.0, 1.5]).range([114, 530.5]);
  const xsB = d3.scaleLinear().domain([1.0, 2.0]).range([704.5, 1107]);
  const xMinorA = [1.05, 1.15, 1.25, 1.35, 1.45];
  const xMinorB = [1.125, 1.375, 1.625, 1.875];
  const yMinorA = [10, 30, 50];
  const yMinorB = [1.25, 3.75, 6.25, 8.75];

  const legendAX = [94.5, 175, 243.5];
  const legendATextX = [144.5, 225, 292.5];
  const legendBX = [717.5, 785.5];
  const legendBTextX = [767, 834.5];

  return (
    <div style={{ position: 'fixed', left: 0, top: 0 }}>
      <svg width={1157} height={717} style={{ display: 'block', background: '#fff' }}>
        <rect x={0} y={0} width={1157} height={717} fill="#fff" />
        <Side
          idp="clipA"
          left={94.5}
          right={550}
          xs={xsA}
          xTicks={xTicksA}
          xTickLabels={xTickLabelsA}
          xMinor={xMinorA}
          yTicks={yTicksA}
          yTickLabels={yTickLabelsA}
          yMinor={yMinorA}
          yZero={159.8}
          yTop={44.8}
          yRef={40}
          data={[
            [aMidCurves, aMidYield, aMidPeak],
            [aMixCurves, aMixYield, aMixPeak],
            [aGripCurves, aGripYield, aGripPeak],
          ]}
          title="(A) Circumferential"
          titleX={8}
          yTitleX={44}
        />
        <Side
          idp="clipB"
          left={684.5}
          right={1127.5}
          xs={xsB}
          xTicks={xTicksB}
          xTickLabels={xTickLabelsB}
          xMinor={xMinorB}
          yTicks={yTicksB}
          yTickLabels={yTickLabelsB}
          yMinor={yMinorB}
          yZero={160.5}
          yTop={15.8}
          yRef={10}
          data={[
            [bMidCurves, bMidYield, bMidPeak],
            [bMixCurves, bMixYield, bMixPeak],
            [bGripCurves, bGripYield, bGripPeak],
          ]}
          title="(B) Radial"
          titleX={598}
          yTitleX={624}
        />
        {legendGroupsA.map((g, i) => (
          <g key={'la' + i}>
            <LegendKey x={legendAX[i]} kind="line" g={g} />
            <LegendText x={legendATextX[i]} t={g} />
          </g>
        ))}
        <LegendKey x={370} kind="yield" />
        <LegendText x={419.5} t="yield" />
        <LegendKey x={466} kind="peak" />
        <LegendText x={515.5} t="peak" />
        {legendGroupsB.map((g, i) => (
          <g key={'lb' + i}>
            <LegendKey x={legendBX[i]} kind="line" g={g} />
            <LegendText x={legendBTextX[i]} t={g} />
          </g>
        ))}
        <LegendKey x={912.5} kind="yield" />
        <LegendText x={961.5} t="yield" />
        <LegendKey x={1007.5} kind="peak" />
        <LegendText x={1056.5} t="peak" />
      </svg>
    </div>
  );
}
